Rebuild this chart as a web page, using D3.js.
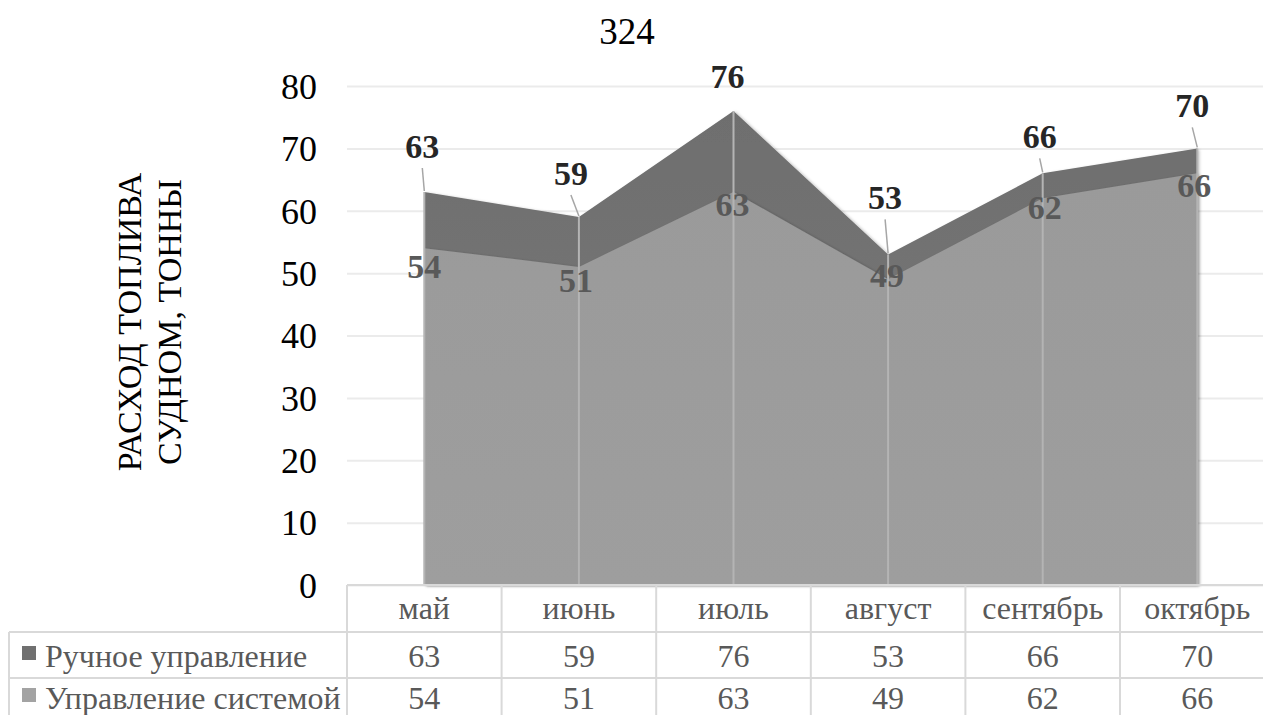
<!DOCTYPE html>
<html>
<head>
<meta charset="utf-8">
<script src="https://cdn.jsdelivr.net/npm/d3@7"></script>
<style>
  html, body { margin: 0; padding: 0; background: #ffffff; }
  svg { display: block; }
  text { font-family: "Liberation Serif", "Times New Roman", serif; }
</style>
</head>
<body>
<svg id="chart" width="1263" height="715"></svg>
<script>
// Monthly fuel consumption of the vessel, tonnes
const chartTitle = "324";
const axisTitleLines = ["РАСХОД ТОПЛИВА", "СУДНОМ, ТОННЫ"];
const categories = ["май", "июнь", "июль", "август", "сентябрь", "октябрь"];
const seriesNames = ["Ручное управление", "Управление системой"];
const manualValues = [63, 59, 76, 53, 66, 70];
const systemValues = [54, 51, 63, 49, 62, 66];
const yTicks = [0, 10, 20, 30, 40, 50, 60, 70, 80];

// hand-placed label nudges (px) relative to each point
const manualLabelNudge = [[-2, -46], [-8, -44], [-6, -35], [-3, -57], [-3, -37], [-5, -43]];
const systemLabelNudge = [[0, 18], [-3, 13], [-1, 12], [-1, -4], [2, 9], [-3, 12]];

const W = 1263, H = 715;
const plotLeft = 347, catWidth = 154.6;
const baseY = 585, topY = 86;

const svg = d3.select("#chart");

const x = d3.scaleBand()
  .domain(categories)
  .range([plotLeft, plotLeft + catWidth * categories.length])
  .paddingInner(0).paddingOuter(0);
const cx = c => x(c) + x.bandwidth() / 2;

const y = d3.scaleLinear().domain([0, 80]).range([baseY, topY]);

const defs = svg.append("defs");
const gDark = defs.append("linearGradient").attr("id", "gDark")
  .attr("x1", 0).attr("y1", 0).attr("x2", 0).attr("y2", 1);
gDark.append("stop").attr("offset", "0%").attr("stop-color", "#6e6e6e");
gDark.append("stop").attr("offset", "100%").attr("stop-color", "#7c7c7c");
const gLight = defs.append("linearGradient").attr("id", "gLight")
  .attr("x1", 0).attr("y1", 0).attr("x2", 0).attr("y2", 1);
gLight.append("stop").attr("offset", "0%").attr("stop-color", "#9a9a9a");
gLight.append("stop").attr("offset", "100%").attr("stop-color", "#9e9e9e");
const shadow = defs.append("filter").attr("id", "soft")
  .attr("x", "-5%").attr("y", "-5%").attr("width", "110%").attr("height", "110%");
shadow.append("feDropShadow").attr("dx", 2).attr("dy", 1).attr("stdDeviation", 1.6)
  .attr("flood-color", "#000").attr("flood-opacity", 0.25);

// gridlines
svg.append("g")
  .attr("transform", `translate(${plotLeft},0)`)
  .call(d3.axisLeft(y).tickValues(yTicks).tickSize(-(W - plotLeft)).tickFormat(""))
  .call(g => g.select(".domain").remove())
  .call(g => g.selectAll("line").attr("stroke", "#ebebeb").attr("stroke-width", 2));

// y tick labels
svg.append("g")
  .attr("transform", `translate(${plotLeft},0)`)
  .call(d3.axisLeft(y).tickValues(yTicks).tickSize(0).tickPadding(30))
  .call(g => g.select(".domain").remove())
  .call(g => g.selectAll("text")
    .attr("font-family", "Liberation Serif")
    .attr("font-size", 36).attr("fill", "#000").attr("dy", "0.34em"));

// areas (overlapping, manual behind system)
const area = d3.area()
  .x((d, i) => cx(categories[i]))
  .y0(baseY)
  .y1(d => y(d));

svg.append("path").datum(manualValues)
  .attr("d", area).attr("fill", "url(#gDark)").attr("filter", "url(#soft)");
svg.append("path").datum(systemValues)
  .attr("d", area).attr("fill", "url(#gLight)").attr("filter", "url(#soft)");

// drop lines
svg.append("g").selectAll("line")
  .data(categories)
  .join("line")
  .attr("x1", c => cx(c)).attr("x2", c => cx(c))
  .attr("y1", (c, i) => y(Math.max(manualValues[i], systemValues[i])))
  .attr("y2", baseY)
  .attr("stroke", "#b4b4b4").attr("stroke-width", 2);

// labels for the manual series with leader lines
const manualLabels = svg.append("g");
manualValues.forEach((v, i) => {
  const px = cx(categories[i]), py = y(v);
  const lx = px + manualLabelNudge[i][0], ly = py + manualLabelNudge[i][1];
  if (py - (ly + 22) > 14) {
    manualLabels.append("line")
      .attr("x1", lx).attr("y1", ly + 22).attr("x2", px).attr("y2", py - 1)
      .attr("stroke", "#a6a6a6").attr("stroke-width", 1.5);
  }
  manualLabels.append("text")
    .attr("x", lx).attr("y", ly).attr("dy", "0.35em")
    .attr("text-anchor", "middle")
    .attr("font-size", 34).attr("font-weight", "bold").attr("fill", "#262626")
    .text(v);
});

// labels for the system series
svg.append("g").selectAll("text")
  .data(systemValues)
  .join("text")
  .attr("x", (v, i) => cx(categories[i]) + systemLabelNudge[i][0])
  .attr("y", (v, i) => y(v) + systemLabelNudge[i][1])
  .attr("dy", "0.35em")
  .attr("text-anchor", "middle")
  .attr("font-size", 34).attr("font-weight", "bold").attr("fill", "#595959")
  .text(v => v);

// title
svg.append("text")
  .attr("x", 627).attr("y", 44)
  .attr("text-anchor", "middle")
  .attr("font-size", 37).attr("fill", "#000")
  .text(chartTitle);

// vertical axis title
const axisTitle = svg.append("text")
  .attr("transform", "translate(141,322) rotate(-90)")
  .attr("text-anchor", "middle")
  .attr("font-size", 34).attr("fill", "#000");
axisTitleLines.forEach((t, i) => {
  axisTitle.append("tspan").attr("x", 0).attr("y", i * 40).text(t);
});

// data table
const tableLeft = 9;
const rowTops = [585, 632, 678, 724];
const tableRight = plotLeft + catWidth * categories.length;
const grid = svg.append("g").attr("stroke", "#d9d9d9").attr("stroke-width", 2);

// horizontal rules
grid.append("line").attr("x1", plotLeft).attr("x2", tableRight).attr("y1", rowTops[0]).attr("y2", rowTops[0]);
[1, 2, 3].forEach(r => {
  grid.append("line").attr("x1", tableLeft).attr("x2", tableRight).attr("y1", rowTops[r]).attr("y2", rowTops[r]);
});
// vertical rules
grid.append("line").attr("x1", tableLeft).attr("x2", tableLeft).attr("y1", rowTops[1]).attr("y2", rowTops[3]);
categories.concat([null]).forEach((c, i) => {
  const xx = plotLeft + catWidth * i;
  grid.append("line").attr("x1", xx).attr("x2", xx).attr("y1", rowTops[0]).attr("y2", rowTops[3]);
});

const tableFont = 32, tableColor = "#595959";
// header row: months
svg.append("g").selectAll("text")
  .data(categories).join("text")
  .attr("x", c => cx(c)).attr("y", 619)
  .attr("text-anchor", "middle")
  .attr("font-size", tableFont).attr("fill", tableColor)
  .text(c => c);

// value rows
const rows = [
  { name: seriesNames[0], values: manualValues, swatch: "#707070", base: 667 },
  { name: seriesNames[1], values: systemValues, swatch: "#a3a3a3", base: 709 }
];
rows.forEach(r => {
  svg.append("rect")
    .attr("x", 22).attr("y", r.base - 21).attr("width", 14).attr("height", 14)
    .attr("fill", r.swatch);
  svg.append("text")
    .attr("x", 45).attr("y", r.base)
    .attr("font-size", tableFont).attr("fill", tableColor)
    .text(r.name);
  svg.append("g").selectAll("text")
    .data(r.values).join("text")
    .attr("x", (v, i) => cx(categories[i])).attr("y", r.base)
    .attr("text-anchor", "middle")
    .attr("font-size", tableFont).attr("fill", tableColor)
    .text(v => v);
});
</script>
</body>
</html>
